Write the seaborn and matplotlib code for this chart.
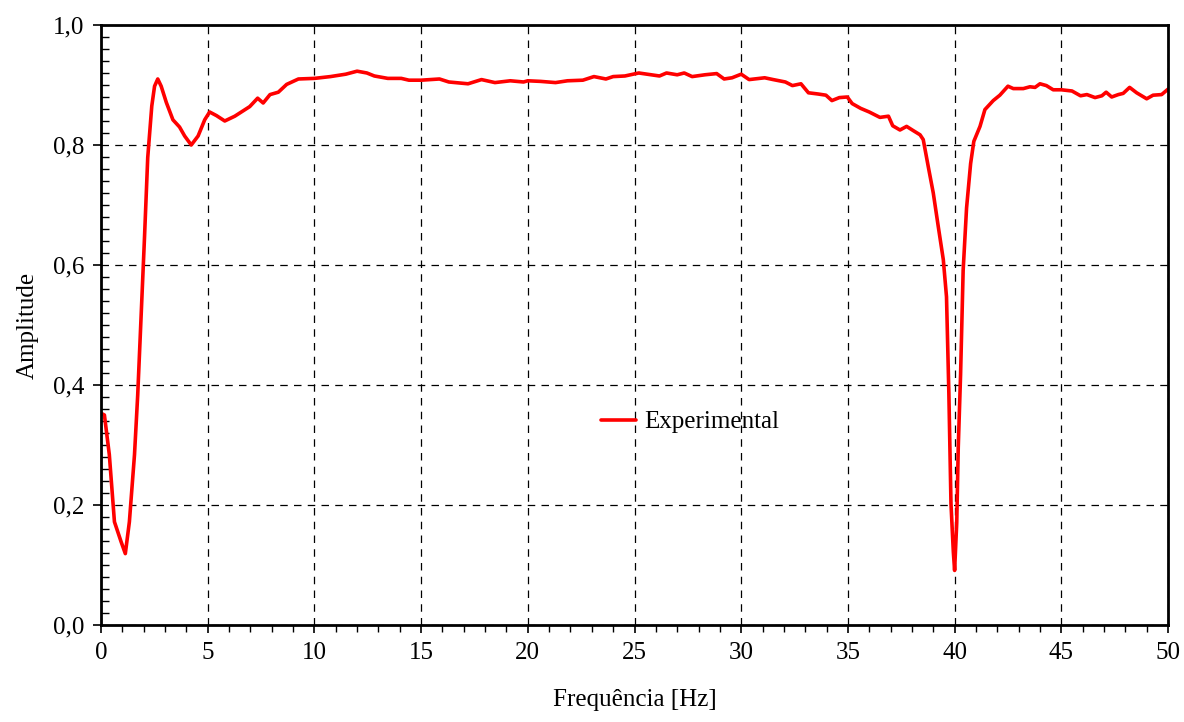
import numpy as np
import pandas as pd
import matplotlib
matplotlib.use("Agg")
import matplotlib.pyplot as plt
import seaborn as sns
from matplotlib.ticker import MultipleLocator

# --- data ---
freq = [0.0, 0.16, 0.39, 0.63, 0.94, 1.14, 1.33, 1.57, 1.72, 1.88, 2.04, 2.19, 2.38, 2.51,
        2.66, 2.82, 3.06, 3.37, 3.68, 3.92, 4.23, 4.55, 4.86, 5.09, 5.41, 5.80, 6.27, 6.66,
        6.97, 7.34, 7.60, 7.92, 8.31, 8.70, 9.25, 10.0, 10.75, 11.47, 12.0, 12.46, 12.81,
        13.44, 14.07, 14.43, 15.0, 15.4, 15.86, 16.3, 17.2, 17.83, 18.46, 19.18, 19.8, 20.0,
        20.6, 21.3, 21.86, 22.58, 23.1, 23.66, 24.0, 24.55, 25.2, 25.8, 26.17, 26.5, 27.0,
        27.33, 27.7, 28.3, 28.85, 29.2, 29.57, 30.0, 30.37, 31.1, 31.5, 32.07, 32.4, 32.8,
        33.15, 33.6, 33.97, 34.25, 34.6, 34.97, 35.2, 35.6, 36.0, 36.5, 36.9, 37.1, 37.44,
        37.75, 38.06, 38.38, 38.53, 38.77, 39.0, 39.23, 39.47, 39.62, 39.73, 39.83, 39.94,
        40.0, 40.1, 40.17, 40.28, 40.4, 40.56, 40.75, 40.9, 41.19, 41.42, 41.81, 42.12,
        42.5, 42.75, 43.22, 43.53, 43.77, 44.0, 44.3, 44.62, 45.0, 45.5, 45.9, 46.2, 46.58,
        46.9, 47.1, 47.36, 47.67, 47.9, 48.2, 48.53, 49.0, 49.3, 49.7, 50.0]
amp = [0.353, 0.350, 0.284, 0.172, 0.139, 0.119, 0.172, 0.284, 0.383, 0.515, 0.647, 0.779,
       0.865, 0.898, 0.910, 0.898, 0.871, 0.842, 0.830, 0.815, 0.800, 0.815, 0.842, 0.855,
       0.849, 0.840, 0.848, 0.857, 0.864, 0.878, 0.870, 0.884, 0.888, 0.901, 0.910, 0.911,
       0.914, 0.918, 0.923, 0.920, 0.915, 0.911, 0.911, 0.908, 0.908, 0.909, 0.910, 0.905,
       0.902, 0.909, 0.904, 0.907, 0.905, 0.907, 0.906, 0.904, 0.907, 0.908, 0.914, 0.910,
       0.914, 0.915, 0.920, 0.917, 0.915, 0.920, 0.917, 0.920, 0.914, 0.917, 0.919, 0.910,
       0.912, 0.918, 0.909, 0.912, 0.909, 0.905, 0.899, 0.902, 0.887, 0.885, 0.883, 0.874,
       0.879, 0.880, 0.869, 0.861, 0.855, 0.846, 0.848, 0.832, 0.825, 0.831, 0.824, 0.817,
       0.809, 0.763, 0.720, 0.665, 0.609, 0.547, 0.387, 0.202, 0.122, 0.091, 0.171, 0.295,
       0.418, 0.591, 0.695, 0.769, 0.806, 0.831, 0.859, 0.874, 0.883, 0.898, 0.894, 0.894,
       0.897, 0.896, 0.902, 0.899, 0.892, 0.892, 0.890, 0.882, 0.884, 0.879, 0.882, 0.888,
       0.880, 0.884, 0.886, 0.896, 0.887, 0.877, 0.883, 0.884, 0.893]

df = pd.DataFrame({"Frequência [Hz]": freq, "Amplitude": amp})

sns.set_style("white")
plt.rcParams['font.family'] = ['Liberation Serif', 'DejaVu Serif']
plt.rcParams['text.color'] = 'black'
plt.rcParams['axes.labelcolor'] = 'black'

fig = plt.figure(figsize=(11.84, 7.22), dpi=100)
ax = fig.add_axes([0.0853, 0.1343, 0.9012, 0.8311])

sns.lineplot(data=df, x="Frequência [Hz]", y="Amplitude", ax=ax, color="#ff0000",
             linewidth=2.6, label="Experimental")

ax.set_xlim(0, 50)
ax.set_ylim(0, 1.0)
ax.xaxis.set_major_locator(MultipleLocator(5))
ax.xaxis.set_minor_locator(MultipleLocator(1))
ax.yaxis.set_major_locator(MultipleLocator(0.2))
ax.yaxis.set_minor_locator(MultipleLocator(0.02))
ax.set_yticklabels([f"{v:.1f}".replace(".", ",") for v in ax.get_yticks()])

ax.grid(True, which="major", color="black", linestyle=(0, (6, 5)), linewidth=0.9)
for s in ax.spines.values():
    s.set_color("black")
    s.set_linewidth(2.0)

ax.tick_params(axis="both", which="major", direction="out", length=6, width=1.2,
               labelsize=18, colors="black", pad=6)
ax.tick_params(axis="x", which="minor", direction="out", length=5, width=1.0, colors="black")
ax.tick_params(axis="y", which="minor", direction="in", length=6, width=1.0, colors="black")
ax.tick_params(axis="x", which="both", bottom=True)
ax.tick_params(axis="y", which="both", left=True)

ax.set_xlabel("Frequência [Hz]", fontsize=18, labelpad=18, color="black")
ax.set_ylabel("Amplitude", fontsize=18, labelpad=10, color="black")

leg = ax.legend(loc="center", bbox_to_anchor=(0.552, 0.338), frameon=False, fontsize=18,
                handlelength=1.4, handletextpad=0.3)
for t in leg.get_texts():
    t.set_color("black")

fig.savefig("out.png", dpi=100)
